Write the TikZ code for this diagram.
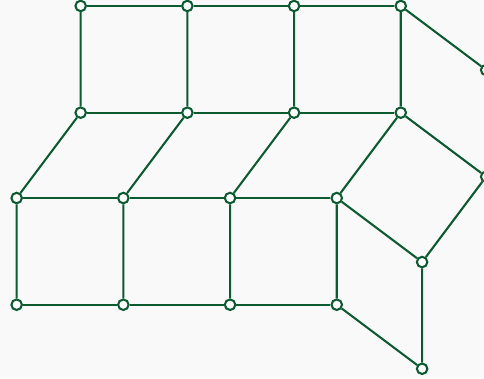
\documentclass[tikz,border=0pt]{standalone}
\usepackage{tikz}
\usetikzlibrary{backgrounds}
\definecolor{linegreen}{HTML}{0B5A30}
\definecolor{pagebg}{HTML}{F9F9F9}

\begin{document}
\begin{tikzpicture}[
    x=2cm,y=2cm,
    vertex/.style={
        circle,
        draw=linegreen,
        fill=white,
        line width=1.1pt,
        inner sep=0pt,
        minimum size=5.6pt,
    },
    edgeline/.style={-,line width=1.1pt,color=linegreen},
]

\useasboundingbox (-0.156,-0.687) rectangle (4.38,2.856);

% === Bottom squares ===
\node[vertex] (b0) at (0,0) {};
\node[vertex] (b1) at (1,0) {};
\node[vertex] (b2) at (2,0) {};
\node[vertex] (b3) at (3,0) {};

\node[vertex] (m0) at (0,1) {};
\node[vertex] (m1) at (1,1) {};
\node[vertex] (m2) at (2,1) {};
\node[vertex] (m3) at (3,1) {};

% === Slanted row ===
\node[vertex] (u0) at (0.6,1.8) {};
\node[vertex] (u1) at (1.6,1.8) {};
\node[vertex] (u2) at (2.6,1.8) {};
\node[vertex] (u3) at (3.6,1.8) {};

% === Top squares ===
\node[vertex] (t0) at (0.6,2.8) {};
\node[vertex] (t1) at (1.6,2.8) {};
\node[vertex] (t2) at (2.6,2.8) {};
\node[vertex] (t3) at (3.6,2.8) {};

% === Right side ===
\node[vertex] (r1) at (4.4,2.2) {};
\node[vertex] (r2) at (4.4,1.2) {};
\node[vertex] (r3) at (3.8,0.4) {};
\node[vertex] (r4) at (3.8,-0.6) {};

\begin{scope}[on background layer]
\fill[pagebg] (-0.156,-0.687) rectangle (4.38,2.856);

\draw[edgeline] (b0) -- (b1) -- (b2) -- (b3);
\draw[edgeline] (m0) -- (m1) -- (m2) -- (m3);
\draw[edgeline] (u0) -- (u1) -- (u2) -- (u3);
\draw[edgeline] (t0) -- (t1) -- (t2) -- (t3);

\draw[edgeline] (b0) -- (m0) -- (u0) -- (t0);
\draw[edgeline] (b1) -- (m1) -- (u1) -- (t1);
\draw[edgeline] (b2) -- (m2) -- (u2) -- (t2);
\draw[edgeline] (b3) -- (m3) -- (u3) -- (t3);

\draw[edgeline] (t3) -- (r1);
\draw[edgeline] (u3) -- (r2) -- (r3) -- (m3);
\draw[edgeline] (b3) -- (r4) -- (r3);
\end{scope}

\end{tikzpicture}
\end{document}
